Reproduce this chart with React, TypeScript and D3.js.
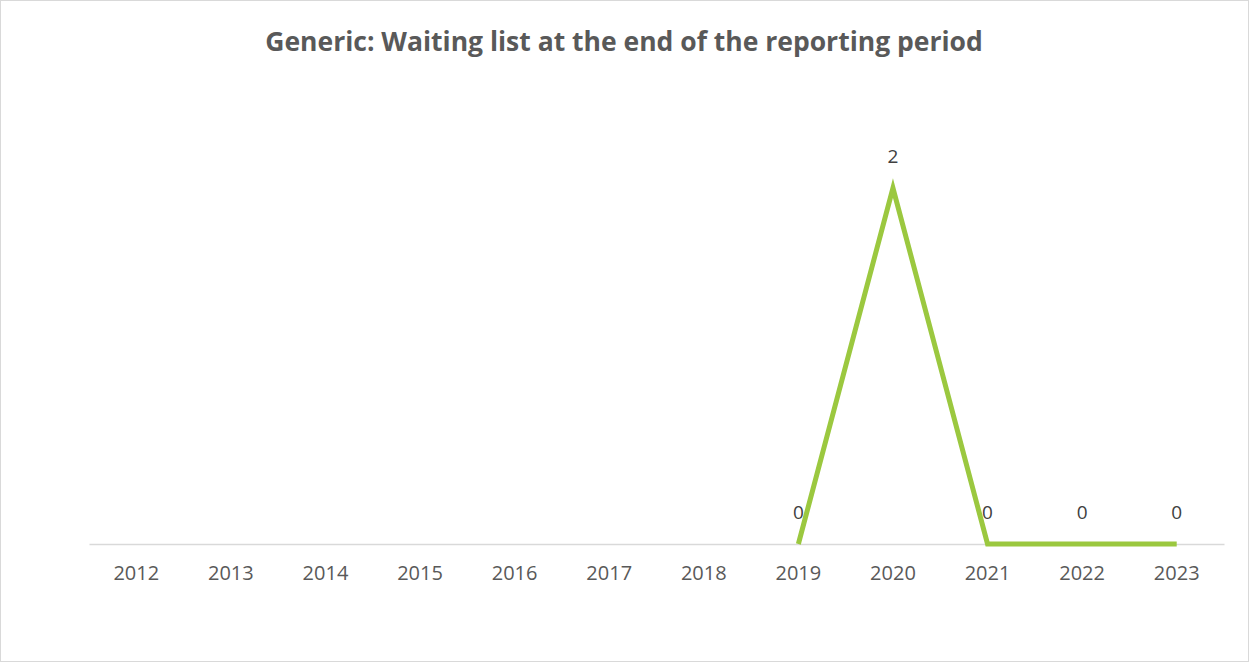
import { useEffect, useRef } from 'react'
import * as d3 from 'd3'

const years = ['2012', '2013', '2014', '2015', '2016', '2017', '2018', '2019', '2020', '2021', '2022', '2023']
const waiting: (number | null)[] = [null, null, null, null, null, null, null, 0, 2, 0, 0, 0]
const title = 'Generic: Waiting list at the end of the reporting period'

export default function App() {
  const ref = useRef<SVGSVGElement | null>(null)
  const W = 1249
  const H = 662

  useEffect(() => {
    const svg = d3.select(ref.current)
    svg.selectAll('*').remove()

    const margin = { top: 188, right: 25, bottom: 118, left: 89 }
    const width = W - margin.left - margin.right
    const height = H - margin.top - margin.bottom

    // frame
    svg.append('rect')
      .attr('x', 0.5).attr('y', 0.5)
      .attr('width', W - 1).attr('height', H - 1)
      .attr('fill', '#fff').attr('stroke', '#d9d9d9')

    svg.append('text')
      .attr('x', 624).attr('y', 51)
      .attr('text-anchor', 'middle')
      .attr('font-family', '"Open Sans", sans-serif')
      .attr('font-weight', 'bold')
      .attr('font-size', 26.5)
      .attr('fill', '#595959')
      .text(title)

    const chart = svg.append('g').attr('transform', `translate(${margin.left},${margin.top})`)

    const x = d3.scaleBand().domain(years).range([0, width])
    const y = d3.scaleLinear().domain([0, 2]).range([height, 0])
    const cx = (d: string) => x(d)! + x.bandwidth() / 2

    // x axis
    const axis = chart.append('g')
      .attr('transform', `translate(0,${height})`)
      .call(d3.axisBottom(x).tickSize(0).tickPadding(22))
    axis.select('.domain').attr('stroke', '#d9d9d9').attr('stroke-width', 1.5)
    axis.selectAll('text')
      .attr('font-family', '"Open Sans", sans-serif')
      .attr('font-size', 20)
      .attr('fill', '#595959')

    const pts = years.map((yr, i) => ({ yr, v: waiting[i] })).filter((d) => d.v !== null) as { yr: string, v: number }[]

    const line = d3.line<{ yr: string, v: number }>()
      .x((d) => cx(d.yr))
      .y((d) => y(d.v))

    chart.append('path')
      .datum(pts)
      .attr('d', line)
      .attr('fill', 'none')
      .attr('stroke', '#9BC83F')
      .attr('stroke-width', 5)
      .attr('stroke-linejoin', 'miter')

    chart.selectAll('.lbl')
      .data(pts)
      .enter()
      .append('text')
      .attr('class', 'lbl')
      .attr('x', (d) => cx(d.yr))
      .attr('y', (d) => y(d.v) - 25)
      .attr('text-anchor', 'middle')
      .attr('font-family', '"Open Sans", sans-serif')
      .attr('font-size', 19)
      .attr('fill', '#404040')
      .text((d) => d.v)
  }, [])

  return (
    <div style={{ position: 'fixed', left: 0, top: 0 }}>
      <svg ref={ref} width={W} height={H} style={{ display: 'block' }} />
    </div>
  )
}
